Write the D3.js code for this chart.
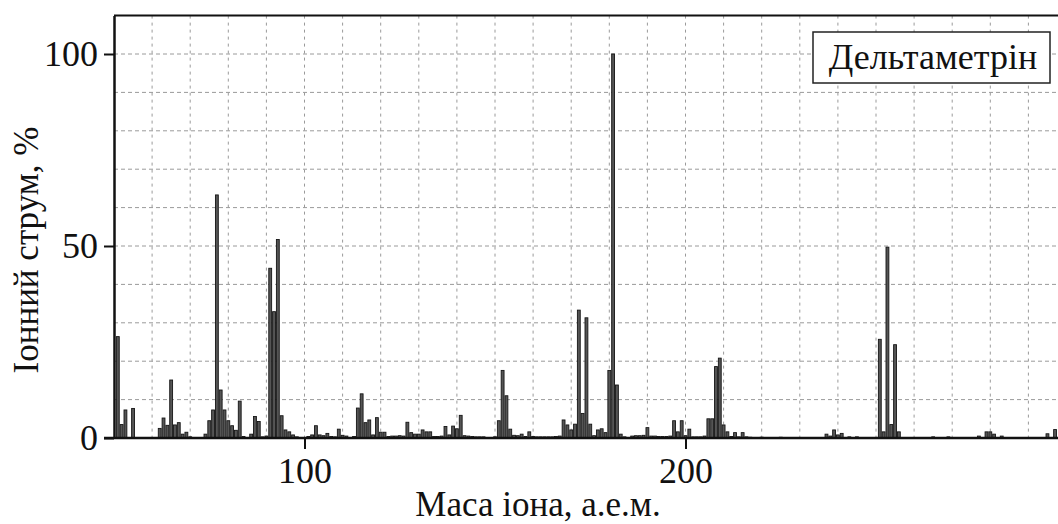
<!DOCTYPE html>
<html>
<head>
<meta charset="utf-8">
<script src="https://cdn.jsdelivr.net/npm/d3@7"></script>
<style>
  html, body { margin: 0; padding: 0; background: #fff; }
  svg { display: block; }
</style>
</head>
<body>
<svg id="chart" width="1058" height="524"></svg>
<script>
// ---- data ----
const masses = [51,52,53,55,62,63,64,65,66,67,68,69,70,74,75,76,77,78,79,80,81,82,83,84,86,87,88,89,90,91,92,93,94,95,96,97,98,101,102,103,104,105,106,107,108,109,110,111,113,114,115,116,117,118,119,120,121,122,123,124,125,126,127,128,129,130,131,132,133,134,135,136,137,138,139,140,141,142,143,144,145,146,147,150,151,152,153,154,155,156,157,158,159,160,161,162,163,164,165,166,167,168,169,170,171,172,173,174,175,176,177,178,179,180,181,182,183,184,186,187,188,189,190,191,192,193,194,195,196,197,198,199,200,201,202,203,204,205,206,207,208,209,210,211,212,213,214,215,216,217,220,225,237,238,239,240,241,243,245,251,252,253,254,255,256,265,269,277,279,280,281,283,295,297];
const intensities = [26.4,3.5,7.3,7.7,2.5,5.2,3.3,15.1,3.4,4.0,1.0,1.5,0.3,1.0,4.5,7.3,63.3,12.5,7.3,4.5,3.2,2.0,9.6,0.4,1.0,5.6,4.3,0.3,0.5,44.2,32.9,51.7,5.8,2.1,1.6,0.8,0.3,0.4,0.8,3.2,0.8,0.6,1.2,0.4,0.3,2.3,0.7,0.5,0.4,7.8,11.5,4.0,4.7,0.8,5.3,1.5,1.5,0.4,0.5,0.5,0.6,0.5,4.1,1.4,1.0,1.0,2.1,1.6,1.6,0.4,0.4,0.5,3.0,0.8,3.1,2.4,5.9,0.6,0.5,0.4,0.3,0.3,0.3,0.3,4.5,17.6,11.0,2.3,0.7,0.6,1.0,0.4,1.6,0.4,0.3,0.3,0.3,0.3,0.3,0.4,0.5,4.7,3.4,2.1,3.6,33.3,6.4,31.3,3.6,0.6,2.1,2.4,1.4,17.6,100,13.8,1.0,0.3,0.5,0.6,0.6,0.7,2.7,0.5,0.5,0.4,0.4,0.4,0.5,4.5,1.6,4.5,0.6,2.3,0.3,0.3,0.3,0.5,5.0,5.0,18.6,20.8,3.4,1.6,0.4,1.4,0.3,1.4,0.3,0.2,0.2,0.2,1.0,0.5,2.1,0.8,1.2,0.3,0.3,25.7,1.6,49.7,3.5,24.3,1.6,0.3,0.3,0.5,1.6,1.6,1.0,0.5,1.1,2.2];
const xTickValues = [100, 200];
const yTickValues = [0, 50, 100];
const xLabel = "Маса іона, а.е.м.";
const yLabel = "Іонний струм, %";
const legendLabel = "Дельтаметрін";

const data = masses.map((m, i) => ({ m, v: intensities[i] }));
const FONT = "Liberation Serif";

const svg = d3.select("#chart");
const x = d3.scaleLinear().domain([50, 300]).range([114, 1066.5]);
const y = d3.scaleLinear().domain([0, 110]).range([438, 15.6]);

// grid
const grid = svg.append("g");
grid.selectAll("line.v").data(d3.range(60, 300, 10)).join("line")
  .attr("x1", d => x(d)).attr("x2", d => x(d))
  .attr("y1", y(110)).attr("y2", y(0))
  .attr("stroke", "#9a9a9a").attr("stroke-width", 1).attr("stroke-dasharray", "3,4");
grid.selectAll("line.h").data(d3.range(10, 110, 10)).join("line")
  .attr("x1", x(50)).attr("x2", x(300))
  .attr("y1", d => y(d)).attr("y2", d => y(d))
  .attr("stroke", "#9a9a9a").attr("stroke-width", 1).attr("stroke-dasharray", "4,3");

// bars
const bw = x(50.75) - x(50);
svg.append("g").selectAll("rect").data(data).join("rect")
  .attr("x", d => x(d.m) - bw / 2)
  .attr("width", bw)
  .attr("y", d => y(d.v))
  .attr("height", d => y(0) - y(d.v))
  .attr("fill", "#555")
  .attr("stroke", "#151515")
  .attr("stroke-width", 0.9);

// frame (top border)
svg.append("line").attr("x1", x(50)).attr("x2", x(300)).attr("y1", y(110)).attr("y2", y(110))
  .attr("stroke", "#111").attr("stroke-width", 2);

// axes
const xAxis = svg.append("g").attr("transform", `translate(0,${y(0)})`)
  .call(d3.axisBottom(x).tickValues(xTickValues).tickSize(11).tickPadding(8).tickSizeOuter(0));
const yAxis = svg.append("g").attr("transform", `translate(${x(50)},0)`)
  .call(d3.axisLeft(y).tickValues(yTickValues).tickSize(10).tickPadding(6).tickSizeOuter(0));
[xAxis, yAxis].forEach(g => {
  g.attr("font-family", FONT).attr("font-size", 36);
  g.select(".domain").attr("stroke", "#111").attr("stroke-width", 2.5);
  g.selectAll(".tick line").attr("stroke", "#111").attr("stroke-width", 2);
  g.selectAll(".tick text").attr("fill", "#111");
});
xAxis.select(".domain").attr("d", `M${x(50) - 10},0H${x(300)}`);

// axis titles
svg.append("text").attr("x", 538).attr("y", 516).attr("text-anchor", "middle")
  .attr("font-family", FONT).attr("font-size", 35).attr("fill", "#111").text(xLabel);
svg.append("text").attr("transform", `translate(38,250) rotate(-90)`).attr("text-anchor", "middle")
  .attr("font-family", FONT).attr("font-size", 35).attr("fill", "#111").text(yLabel);

// legend
const lg = svg.append("g");
lg.append("rect").attr("x", 813).attr("y", 32).attr("width", 237).attr("height", 51)
  .attr("fill", "#fff").attr("stroke", "#222").attr("stroke-width", 1.5);
lg.append("text").attr("x", 933).attr("y", 69).attr("text-anchor", "middle")
  .attr("font-family", FONT).attr("font-size", 36).attr("fill", "#111").text(legendLabel);
</script>
</body>
</html>
